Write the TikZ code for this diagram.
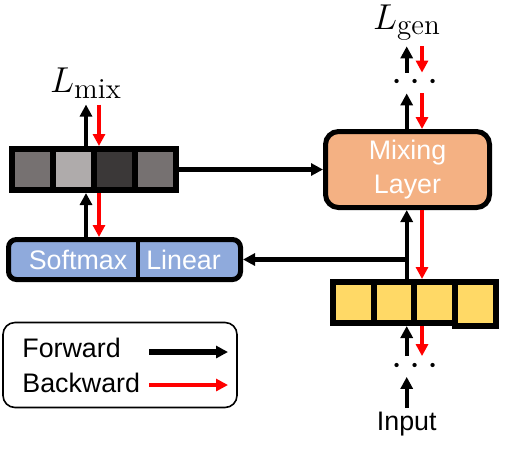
\RequirePackage{fix-cm}
\documentclass[tikz,border=0pt]{standalone}
\usepackage{fontspec}
\setsansfont{Liberation Sans}
\usetikzlibrary{arrows.meta, positioning}
\DeclareMathSizes{18}{18}{14.5}{10}
\definecolor{wgtA}{HTML}{767171}
\definecolor{wgtB}{HTML}{AFABAB}
\definecolor{wgtC}{HTML}{3B3838}
\definecolor{hidY}{HTML}{FFD966}
\definecolor{headB}{HTML}{8FAADC}
\definecolor{mixO}{HTML}{F4B183}
\tikzset{
>={Triangle[length=6pt,width=6pt]}, % solid arrow heads
cell/.style={draw, line width=3pt, minimum width=20.5pt, minimum height=20.5pt, inner sep=0pt}, % one square of a vector
block/.style={draw, line width=2.5pt, inner sep=0pt}, % the boxes with rounded corners
txt/.style={font=\sffamily\fontsize{13.4}{17}\selectfont}, % plain labels
loss/.style={font=\fontsize{18}{22}\selectfont, inner sep=0pt, outer sep=3pt}, % loss terms
dotrow/.style={font=\fontsize{20}{24}\selectfont, minimum height=10pt, inner sep=0pt}, % the dots
fwd/.style={->, line width=2.2pt}, % forward pass
bwd/.style={->, line width=2pt, red}, % backward pass
}

\begin{document}
\begin{tikzpicture}[x=0.5pt, y=-0.5pt]
  \useasboundingbox (0,0) rectangle (517,456);

  % Columns of the vertical arrows
  \coordinate (fl) at (86,0);
  \coordinate (bl) at (99,0);
  \coordinate (fr) at (406.7,0);
  \coordinate (br) at (422,0);
  \coordinate (dv) at (138,0);

  % Vectors
  \foreach \c [count=\i] in {wgtA,wgtB,wgtC,wgtA}
    \node[cell, fill=\c] (w\i) at ({32+41*(\i-1)},169.5) {};
  \foreach \i in {1,2,3}
    \node[cell, fill=hidY] (h\i) at ({353.4+40.75*(\i-1)},302.5) {};
  \node[cell, fill=hidY, minimum height=21.85pt] (h4) at (475.65,303.85) {};

  % Blocks
  \node[block, fill=headB, rounded corners=4pt, minimum width=116pt, minimum height=20pt] (head) at (124.5,259.5) {};
  \draw[line width=2pt] (head.north -| dv) -- (head.south -| dv);
  \node[txt, text=white] (smx) at (78,259.5) {Softmax};
  \node[txt, text=white] (lin) at (183.5,259.5) {Linear};
  \node[block, txt, fill=mixO, text=white, align=center, rounded corners=6.5pt, minimum width=82pt, minimum height=38pt] (mix) at (407.5,169.5) {Mixing\\Layer};

  % Losses, dots and input
  \node[loss, anchor=base] (lmix) at (86,92) {$L_{\mathrm{mix}}$};
  \node[loss, anchor=base] (lgen) at (407,29) {$L_{\mathrm{gen}}$};
  \node[dotrow] (dtop) at (415,83) {$\cdots$};
  \node[dotrow] (dbot) at (415,366.5) {$\cdots$};
  \node[txt, anchor=north, inner sep=2pt] (inp) at (406.7,408) {Input};

  % Forward
  \draw[fwd] (head.north -| fl) -- (w2.south -| fl);
  \draw[fwd] (w2.north -| fl) -- (lmix.south -| fl);
  \draw[fwd] (w4.east) -- (mix.west);
  \draw[fwd] (inp.north) -- (dbot.south -| fr);
  \draw[fwd] (dbot.north -| fr) -- (h2.south -| fr);
  \draw[fwd] (h2.north -| fr) -- (mix.south -| fr);
  \draw[fwd] (fr |- head.east) -- (head.east);
  \draw[fwd] (mix.north -| fr) -- (dtop.south -| fr);
  \draw[fwd] (dtop.north -| fr) -- (lgen.south -| fr);

  % Backward
  \draw[bwd] (lmix.south -| bl) -- (w3.north -| bl);
  \draw[bwd] (w3.south -| bl) -- (head.north -| bl);
  \draw[bwd] (lgen.south -| br) -- (dtop.north -| br);
  \draw[bwd] (dtop.south -| br) -- (mix.north -| br);
  \draw[bwd] (mix.south -| br) -- (h3.north -| br);
  \draw[bwd] (h3.south -| br) -- (dbot.north -| br);

  % Legend
  \node[draw, line width=0.8pt, rounded corners=6pt, minimum width=117pt, minimum height=42.5pt] (legend) at (120,365) {};
  \node[txt, anchor=west, inner sep=0pt] (fwtxt) at (22,348) {Forward};
  \node[txt, anchor=west, inner sep=0pt] (bwtxt) at (22,382.5) {Backward};
  \coordinate (fa) at (149,352);
  \coordinate (fb) at (228,352);
  \coordinate (ba) at (149,385);
  \coordinate (bb) at (228,385);
  \draw[fwd, line width=2.8pt] (fa) -- (fb);
  \draw[bwd] (ba) -- (bb);
\end{tikzpicture}
\end{document}
